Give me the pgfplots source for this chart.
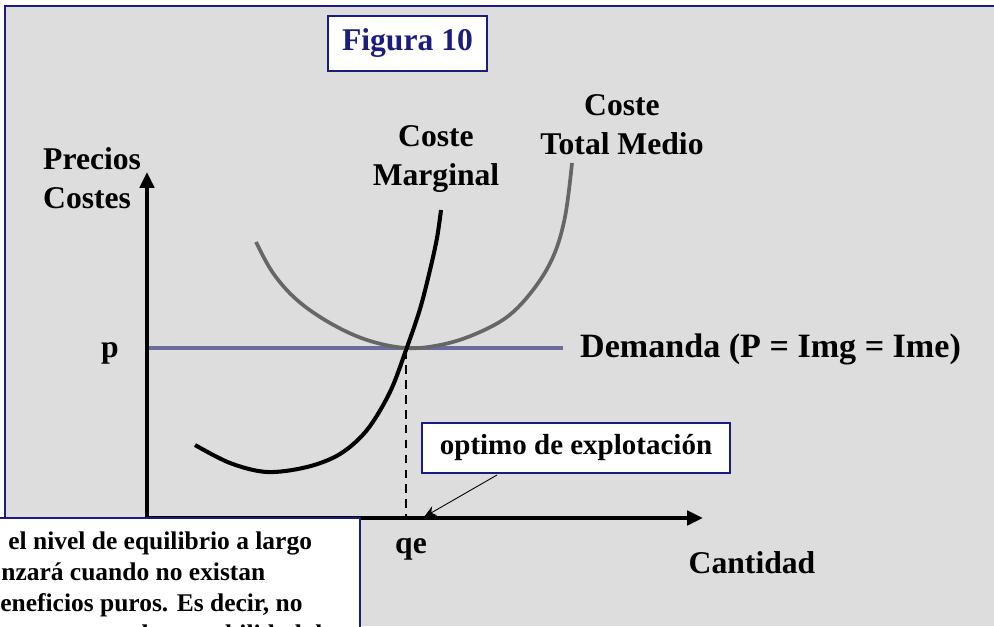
\documentclass[border=0pt]{standalone}
\usepackage{fontspec}
\setmainfont{Liberation Serif}
\usepackage{pgfplots}
\pgfplotsset{compat=1.18}
\usetikzlibrary{arrows.meta}
\definecolor{navy}{HTML}{1C1C7E}
\definecolor{panel}{HTML}{DDDDDD}
\definecolor{demand}{HTML}{6B6B9E}
\definecolor{atc}{HTML}{666666}

\begin{document}
\begin{tikzpicture}[font=\bfseries]
\begin{axis}[scale only axis, width=19.88cm, height=12.52cm,
    xmin=0, xmax=994, ymin=0, ymax=626, y dir=reverse,
    hide axis, clip=false]
  % background panel
  \fill[white] (axis cs:0,0) rectangle (axis cs:994,626);
  \fill[panel] (axis cs:5,6) rectangle (axis cs:994,626);
  \draw[navy, line width=1.1pt] (axis cs:5,626) -- (axis cs:5,6) -- (axis cs:994,6);

  % title box
  \node[draw=navy, fill=white, line width=0.9pt, minimum width=159*0.02cm,
        minimum height=55*0.02cm, text=navy, font=\bfseries\fontsize{18}{22}\selectfont]
    at (axis cs:407.5,43.5) {Figura 10};

  % demand line and dashed guide
  \addplot[demand, line width=2.2pt] coordinates {(147,348) (563,348)};
  \addplot[black, dashed, line width=0.9pt, dash pattern=on 5pt off 3.5pt] coordinates {(406,350) (406,517)};

  % average total cost
  \addplot[atc, line width=2.1pt, smooth, tension=0.6] coordinates
    {(256,242) (273,273) (297,300) (330,323) (367,340) (406,348)
     (440,345) (473,335) (507,317) (533,290) (553,257) (565,217) (572,163)};
  % marginal cost
  \addplot[black, line width=2.3pt, smooth, tension=0.55] coordinates
    {(195,445) (230,463) (267,472) (307,467) (340,454) (367,430) (390,392)
     (406,350) (420,309) (430,270) (437,238) (441,210)};

  % axes
  \draw[black, line width=2.3pt, -{Triangle[length=9pt,width=8pt]}] (axis cs:147,517) -- (axis cs:147,172);
  \draw[black, line width=2.3pt, -{Triangle[length=9pt,width=8pt]}] (axis cs:147,518) -- (axis cs:703,518);

  % labels
  \begin{scope}[font=\bfseries\fontsize{18}{22}\selectfont]
    \node[align=left, anchor=west] at (axis cs:37,178) {Precios\\Costes};
    \node[align=center] at (axis cs:436,159) {Coste\\Marginal};
    \node[align=center] at (axis cs:622,125) {Coste\\Total Medio};
    \node[anchor=base] at (axis cs:110,357) {p};
    \node[anchor=base west, font=\bfseries\fontsize{19.4}{22}\selectfont] at (axis cs:574,357) {Demanda (P = Img = Ime)};
    \node[anchor=base] at (axis cs:411,553) {qe};
    \node[anchor=base] at (axis cs:752,573) {Cantidad};
  \end{scope}

  % optimum box and pointer
  \node[draw=navy, fill=white, line width=0.9pt, minimum width=308*0.02cm,
        minimum height=50*0.02cm, font=\bfseries\fontsize{16.5}{19}\selectfont]
    at (axis cs:576,448) {optimo de explotación};
  \draw[black, line width=0.5pt, -{Stealth[length=7pt,width=6pt]}] (axis cs:497,475) -- (axis cs:424,517);

  % bottom-left text box (cut by the picture's edges)
  \begin{scope}
    \clip (axis cs:0,517) rectangle (axis cs:361,626);
    \fill[white] (axis cs:0,517) rectangle (axis cs:360,630);
    \draw[navy, line width=1.1pt] (axis cs:-5,518) -- (axis cs:360,518) -- (axis cs:360,630);
    \begin{scope}[font=\bfseries\fontsize{14.5}{18}\selectfont]
      \node[anchor=base west, inner sep=0pt] at (axis cs:8,549) {el nivel de equilibrio a largo};
      \node[anchor=base west, inner sep=0pt] at (axis cs:1,580) {nzará cuando no existan};
      \node[anchor=base west, inner sep=0pt] at (axis cs:0,611) {eneficios puros. Es decir, no};
      \node[anchor=base east, inner sep=0pt] at (axis cs:334,642) {entrarán empresas pues la rentabilidad de};
    \end{scope}
  \end{scope}
\end{axis}
\pgfresetboundingbox
\path (0,0) rectangle (19.88cm,12.52cm);
\end{tikzpicture}
\end{document}
